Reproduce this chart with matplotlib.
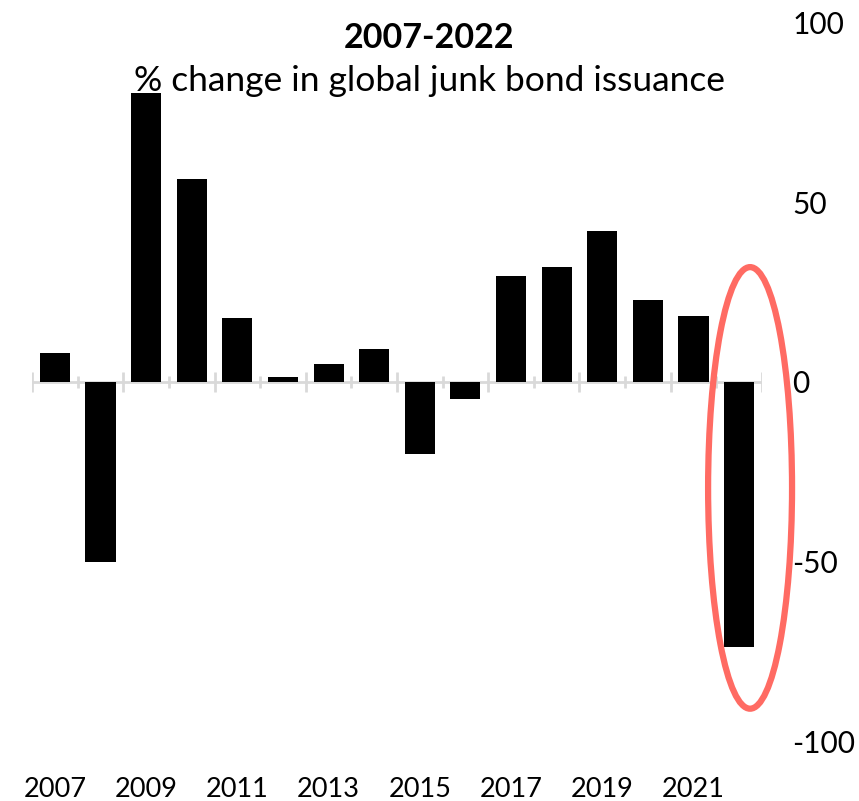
import numpy as np
import matplotlib.pyplot as plt
from matplotlib.patches import Ellipse

## DATA
years = [str(y) for y in range(2007, 2023)]
change = [8.2, -50.1, 80.5, 56.5, 17.8, 1.3, 5.1, 9.2,
          -20.0, -4.8, 29.5, 32.0, 42.0, 22.8, 18.4, -73.8]  # % change
y_ticks = [-100, -50, 0, 50, 100]

plt.rcParams['font.family'] = ['Lato', 'DejaVu Sans']

fig = plt.figure(figsize=(8.59, 8.01), dpi=100)
ax = fig.add_axes([0.0373, 0.0749, 0.8497, 0.8964])

x = np.arange(len(years))
ax.bar(x, change, width=0.66, color='black', zorder=3)

ax.set_xlim(-0.5, len(years) - 0.5)
ax.set_ylim(-100, 100)

# category axis along zero, with alternating tick lengths
grey = '#d9d9d9'
ax.axhline(0, color=grey, lw=2, zorder=2)
for i, b in enumerate(np.arange(-0.5, len(years), 1.0)):
    h = 2.8 if i % 2 == 0 else 1.8
    ax.vlines(b, -h, h, color=grey, lw=2, zorder=2)

# labels sit low, every other year
ax.set_xticks(x[::2])
ax.set_xticklabels(years[::2], fontsize=19.5)
ax.tick_params(axis='x', length=0, pad=26)

ax.yaxis.tick_right()
ax.set_yticks(y_ticks)
ax.set_yticklabels([str(v) for v in y_ticks], fontsize=21.5)
ax.tick_params(axis='y', length=0, pad=22)
for lab in ax.get_yticklabels():
    lab.set_horizontalalignment('left')

for s in ax.spines.values():
    s.set_visible(False)

# highlight on the last year
ell = Ellipse((15.24, -29.5), 1.84, 123, fill=False, edgecolor='#ff6b63',
              lw=4.5, clip_on=False, zorder=4)
ax.add_patch(ell)

fig.text(0.5, 0.952, '2007-2022', ha='center', va='center',
         fontsize=24.5, fontweight='bold')
fig.text(0.5, 0.899, '% change in global junk bond issuance', ha='center',
         va='center', fontsize=25.5)

fig.savefig('out.png', dpi=100)
